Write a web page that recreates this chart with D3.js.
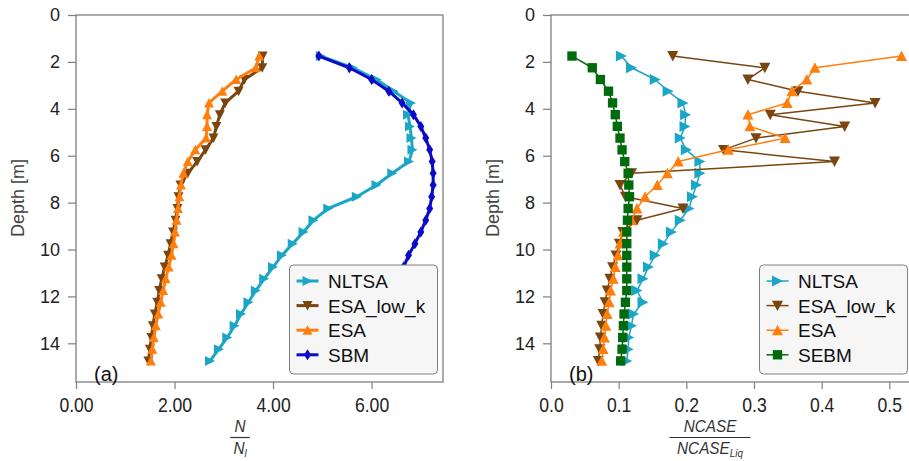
<!DOCTYPE html>
<html>
<head>
<meta charset="utf-8">
<script src="https://cdn.jsdelivr.net/npm/d3@7"></script>
<style>
  body { margin: 0; background: #fff; }
  svg { font-family: 'Liberation Sans', Arial, sans-serif; }
</style>
</head>
<body>
<svg id="chart" width="909" height="461"></svg>
<script>
'use strict';

// depth of every sample [m]
var depth = [1.75, 2.25, 2.75, 3.25, 3.75, 4.25, 4.75, 5.25, 5.75, 6.25, 6.75, 7.25, 7.75, 8.25,
  8.75, 9.25, 9.75, 10.25, 10.75, 11.25, 11.75, 12.25, 12.75, 13.25, 13.75, 14.25, 14.75]

// panel (a): N / N_l
var nltsaA = [4.97, 5.62, 6.1, 6.45, 6.8, 6.74, 6.78, 6.81, 6.83, 6.76, 6.42, 6.1, 5.7, 5.12,
  4.82, 4.62, 4.4, 4.18, 4.0, 3.82, 3.65, 3.5, 3.35, 3.22, 3.07, 2.9, 2.72]
var esaLowKA = [3.79, 3.78, 3.42, 3.3, 3.03, 2.92, 2.85, 2.79, 2.63, 2.46, 2.27, 2.12, 2.08, 2.06,
  2.02, 1.97, 1.92, 1.87, 1.8, 1.74, 1.69, 1.65, 1.6, 1.56, 1.53, 1.5, 1.47]
var esaA = [3.72, 3.65, 3.25, 2.97, 2.7, 2.66, 2.66, 2.64, 2.42, 2.27, 2.18, 2.13, 2.1, 2.07,
  2.04, 2.01, 1.98, 1.94, 1.88, 1.82, 1.77, 1.72, 1.67, 1.62, 1.58, 1.55, 1.52]
var sbmA = [4.93, 5.55, 6.0, 6.35, 6.62, 6.85, 7.0, 7.1, 7.18, 7.23, 7.25, 7.25, 7.22, 7.18,
  7.1, 7.0, 6.88, 6.75, 6.65]

// panel (b): NCASE / NCASE_Liq
var nltsaB = [0.104, 0.119, 0.154, 0.173, 0.195, 0.199, 0.198, 0.191, 0.2, 0.22, 0.22, 0.215, 0.209, 0.204,
  0.191, 0.178, 0.166, 0.154, 0.144, 0.136, 0.127, 0.136, 0.122, 0.119, 0.115, 0.114, 0.112]
var esaLowKB = [0.18, 0.316, 0.291, 0.365, 0.479, 0.324, 0.434, 0.303, 0.255, 0.419, 0.119, 0.102, 0.11, 0.195,
  0.127, 0.106, 0.101, 0.096, 0.091, 0.087, 0.083, 0.08, 0.077, 0.075, 0.073, 0.072, 0.07]
var esaB = [0.518, 0.39, 0.378, 0.356, 0.349, 0.291, 0.294, 0.346, 0.262, 0.188, 0.172, 0.157, 0.139, 0.127,
  0.119, 0.107, 0.102, 0.099, 0.095, 0.092, 0.088, 0.086, 0.083, 0.081, 0.079, 0.077, 0.075]
var sebmB = [0.031, 0.061, 0.073, 0.085, 0.091, 0.095, 0.098, 0.102, 0.105, 0.109, 0.114, 0.115, 0.116, 0.114,
  0.113, 0.112, 0.112, 0.112, 0.112, 0.112, 0.112, 0.11, 0.108, 0.107, 0.106, 0.105, 0.103]

var depthTicks = [0, 2, 4, 6, 8, 10, 12, 14]
var xTicksA = [0, 2, 4, 6]
var xTicksB = [0, 0.1, 0.2, 0.3, 0.4, 0.5]

var colors = {
  nltsa: '#1ba6c8',
  esaLowK: '#7a450e',
  esa: '#ff7f0e',
  sbm: '#0a0ac8',
  sebm: '#006b0c'
}

var svg = d3.select('#chart')

// marker shapes
function markerPath(shape, s) {
  var h = s / 2
  if (shape === 'right') return 'M' + (-h) + ',' + (-h) + 'L' + h + ',0L' + (-h) + ',' + h + 'Z'
  if (shape === 'down') return 'M' + (-h) + ',' + (-h * 0.9) + 'L' + h + ',' + (-h * 0.9) + 'L0,' + h + 'Z'
  if (shape === 'up') return 'M' + (-h) + ',' + (h * 0.9) + 'L' + h + ',' + (h * 0.9) + 'L0,' + (-h) + 'Z'
  if (shape === 'diamond') return 'M0,' + (-h * 1.1) + 'L' + (h * 0.7) + ',0L0,' + (h * 1.1) + 'L' + (-h * 0.7) + ',0Z'
  return 'M' + (-h * 0.85) + ',' + (-h * 0.85) + 'h' + (s * 0.85) + 'v' + (s * 0.85) + 'h' + (-s * 0.85) + 'Z'
}

function drawPanel(opt) {
  var xScale = d3.scaleLinear().domain(opt.xDomain).range([opt.left, opt.right])
  var yScale = d3.scaleLinear().domain([0, 15.65]).range([15, 382])

  var g = svg.append('g')

  // clip so the lines stay in the plot
  var clipId = 'clip-' + opt.name
  svg.append('clipPath').attr('id', clipId)
    .append('rect')
    .attr('x', opt.left).attr('y', 15)
    .attr('width', opt.right - opt.left).attr('height', 367)

  var xAxis = d3.axisBottom(xScale)
    .tickValues(opt.xTicks)
    .tickSize(7)
    .tickPadding(9)
    .tickFormat(d3.format(opt.xFormat))
  var yAxis = d3.axisLeft(yScale)
    .tickValues(depthTicks)
    .tickSize(8)
    .tickPadding(8)

  var xAxisG = g.append('g')
    .attr('transform', 'translate(0,382)')
    .call(xAxis)
  var yAxisG = g.append('g')
    .attr('transform', 'translate(' + opt.left + ',0)')
    .call(yAxis)

  ;[xAxisG, yAxisG].forEach(function(a) {
    a.select('.domain').remove()
    a.selectAll('.tick line').attr('stroke', '#7f7f7f').attr('stroke-width', 1.2)
    a.selectAll('.tick text').attr('fill', '#222').style('font-size', '18px')
  })
  // x labels are a bit condensed in the original
  xAxisG.selectAll('.tick text')
    .style('font-size', '20px')
    .attr('transform', 'scale(0.88,1)')

  // frame
  g.append('rect')
    .attr('x', opt.left).attr('y', 15)
    .attr('width', opt.right - opt.left).attr('height', 367)
    .attr('fill', 'none')
    .attr('stroke', '#7f7f7f')
    .attr('stroke-width', 1.3)

  g.append('text')
    .attr('transform', 'translate(' + (opt.left - 52) + ',' + 198 + ') rotate(-90)')
    .attr('text-anchor', 'middle')
    .attr('fill', '#444')
    .style('font-size', '18px')
    .text('Depth [m]')

  var plot = g.append('g').attr('clip-path', 'url(#' + clipId + ')')

  var line = d3.line()
    .x(function(d) { return xScale(d[0]) })
    .y(function(d) { return yScale(d[1]) })

  opt.series.forEach(function(s) {
    var pts = s.values.map(function(v, i) { return [v, depth[i]] })
    plot.append('path')
      .datum(pts)
      .attr('d', line)
      .attr('fill', 'none')
      .attr('stroke', s.color)
      .attr('stroke-width', opt.lineWidth)
      .attr('stroke-linejoin', 'round')
    plot.selectAll(null)
      .data(pts)
      .enter().append('path')
      .attr('transform', function(d) { return 'translate(' + xScale(d[0]) + ',' + yScale(d[1]) + ')' })
      .attr('d', markerPath(s.shape, opt.markerSize))
      .attr('fill', s.color)
  })

  // panel letter
  g.append('text')
    .attr('x', opt.left + 18)
    .attr('y', 381)
    .attr('fill', '#111')
    .style('font-size', '20px')
    .text(opt.letter)

  // legend
  var lw = 148, lh = 109
  var lx = opt.right - 5.5 - lw, ly = 265
  var leg = g.append('g').attr('transform', 'translate(' + lx + ',' + ly + ')')
  leg.append('rect')
    .attr('width', lw).attr('height', lh)
    .attr('rx', 4)
    .attr('fill', '#f6f6f6')
    .attr('stroke', '#7f7f7f')
    .attr('stroke-width', 1)
  opt.series.forEach(function(s, i) {
    var ry = 16 + i * 24.6
    leg.append('line')
      .attr('x1', 7).attr('x2', 29)
      .attr('y1', ry).attr('y2', ry)
      .attr('stroke', s.color)
      .attr('stroke-width', opt.lineWidth)
    leg.append('path')
      .attr('transform', 'translate(18,' + ry + ')')
      .attr('d', markerPath(s.shape, opt.markerSize))
      .attr('fill', s.color)
    leg.append('text')
      .attr('x', 38.5).attr('y', ry + 7)
      .attr('fill', '#111')
      .style('font-size', '19px')
      .text(s.name)
  })

  return xScale
}

drawPanel({
  name: 'a', letter: '(a)',
  left: 76, right: 443,
  xDomain: [0, 7.45], xTicks: xTicksA, xFormat: '.2f',
  lineWidth: 3, markerSize: 10,
  series: [
    { name: 'NLTSA', values: nltsaA, color: colors.nltsa, shape: 'right' },
    { name: 'ESA_low_k', values: esaLowKA, color: colors.esaLowK, shape: 'down' },
    { name: 'ESA', values: esaA, color: colors.esa, shape: 'up' },
    { name: 'SBM', values: sbmA, color: colors.sbm, shape: 'diamond' }
  ]
})

drawPanel({
  name: 'b', letter: '(b)',
  left: 551, right: 913,
  xDomain: [0, 0.535], xTicks: xTicksB, xFormat: '.1f',
  lineWidth: 1.5, markerSize: 11,
  series: [
    { name: 'NLTSA', values: nltsaB, color: colors.nltsa, shape: 'right' },
    { name: 'ESA_low_k', values: esaLowKB, color: colors.esaLowK, shape: 'down' },
    { name: 'ESA', values: esaB, color: colors.esa, shape: 'up' },
    { name: 'SEBM', values: sebmB, color: colors.sebm, shape: 'square' }
  ]
})

// x axis titles as fractions
function fraction(cx, num, den, sub, barW) {
  var f = svg.append('g')
    .attr('transform', 'translate(' + cx + ',0) scale(0.9,1)')
    .attr('fill', '#333')
    .style('font-style', 'italic')
    .style('font-size', '17px')
  f.append('text').attr('y', 432).attr('text-anchor', 'middle').text(num)
  f.append('line')
    .attr('x1', -barW / 2).attr('x2', barW / 2)
    .attr('y1', 437.5).attr('y2', 437.5)
    .attr('stroke', '#333').attr('stroke-width', 1.2)
  var t = f.append('text').attr('y', 454).attr('text-anchor', 'middle')
  t.append('tspan').text(den)
  t.append('tspan').attr('dy', 3).style('font-size', '11px').text(sub)
}
fraction(240, 'N', 'N', 'l', 22)
fraction(710, 'NCASE', 'NCASE', 'Liq', 90)
</script>
</body>
</html>
